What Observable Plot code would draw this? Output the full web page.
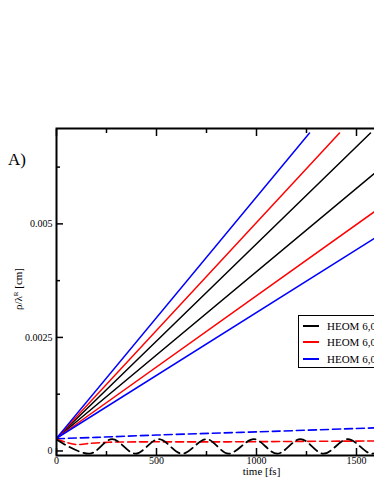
<!DOCTYPE html>
<html>
<head>
<meta charset="utf-8">
<script src="https://cdn.jsdelivr.net/npm/d3@7"></script>
<script src="https://cdn.jsdelivr.net/npm/@observablehq/plot@0.6"></script>
<style>
  html, body { margin: 0; padding: 0; background: #fff; overflow: hidden; }
  #wrap { position: relative; width: 374px; height: 484px; overflow: hidden; font-family: "Liberation Serif", "DejaVu Serif", serif; }
  #chart { position: absolute; left: 0; top: 0; width: 460px; }
  #chart svg { max-width: none !important; width: 460px; height: 484px; }
  #panel { position: absolute; left: 8px; top: 150px; font-size: 17px; }
  #ylab { position: absolute; left: 18px; top: 289px; transform: translate(-50%, -50%) rotate(-90deg); font-size: 11px; white-space: nowrap; }
  #ylab sup { font-size: 7px; }
  #legend { position: absolute; left: 298px; top: 315px; width: 120px; height: 51px; border: 1.5px solid #000; background: #fff; font-size: 11px; }
  .row { position: absolute; left: 4px; height: 14px; display: flex; align-items: center; white-space: nowrap; }
  .sw { display: inline-block; width: 16px; height: 2px; margin-right: 8px; }
</style>
</head>
<body>
<div id="wrap">
  <div id="chart"></div>
  <div id="panel">A)</div>
  <div id="ylab">ρ/λ<sup>R</sup> [cm]</div>
  <div id="legend"></div>
</div>
<script>
// ---- data ----
const black1T = [0, 1570];  const black1V = [0.00028, 0.0070];
const black2T = [0, 1600];  const black2V = [0.00028, 0.00615];
const red1T   = [0, 1415];  const red1V   = [0.00028, 0.0070];
const red2T   = [0, 1600];  const red2V   = [0.00028, 0.00530];
const blue1T  = [0, 1265];  const blue1V  = [0.00028, 0.0070];
const blue2T  = [0, 1600];  const blue2V  = [0.00028, 0.00471];

const blackDashT = [0, 165, 278, 395, 511, 628, 750, 860, 987, 1103, 1220, 1335, 1457, 1578, 1695];
const blackDashV = [0.00025, -0.00006, 0.00026, -0.00006, 0.00026, -0.00006, 0.00026, -0.00006, 0.00026, -0.00006, 0.00026, -0.00006, 0.00026, -0.00006, 0.00026];
const redDashT = [0, 50, 100, 150, 250, 400, 800, 1200, 1600];
const redDashV = [0.00026, 0.00019, 0.00014, 0.00016, 0.00019, 0.00020, 0.00020, 0.00021, 0.00022];
const blueDashT = [0, 200, 500, 1000, 1600];
const blueDashV = [0.00027, 0.00030, 0.00035, 0.00042, 0.00051];

const legendLabels = ["HEOM 6,000", "HEOM 6,000", "HEOM 6,000"];
const legendColors = ["#000000", "#ff0000", "#0000ff"];

const xMajor = [0, 500, 1000, 1500, 2000];
const xMinor = [250, 750, 1250, 1750];
const yMajor = [0, 0.0025, 0.005];
const yMinor = [0.00125, 0.00375, 0.00625];
const yLabels = {0: "0", 0.0025: "0.0025", 0.005: "0.005"};

const pts = (T, V) => T.map((t, i) => ({t, v: V[i]}));

const solid = [
  [black1T, black1V, "#000"], [black2T, black2V, "#000"],
  [red1T, red1V, "#f00"], [red2T, red2V, "#f00"],
  [blue1T, blue1V, "#00f"], [blue2T, blue2V, "#00f"]
];

const marks = [];
for (const [T, V, c] of solid) {
  marks.push(Plot.line(pts(T, V), {x: "t", y: "v", stroke: c, strokeWidth: 1.5, clip: true}));
}
marks.push(Plot.line(pts(blueDashT, blueDashV), {x: "t", y: "v", stroke: "#00f", strokeWidth: 1.6, strokeDasharray: "8,4", curve: "catmull-rom", clip: true}));
marks.push(Plot.line(pts(redDashT, redDashV), {x: "t", y: "v", stroke: "#f00", strokeWidth: 1.6, strokeDasharray: "8,4", curve: "catmull-rom", clip: true}));
marks.push(Plot.line(pts(blackDashT, blackDashV), {x: "t", y: "v", stroke: "#000", strokeWidth: 1.8, strokeDasharray: "10,5", curve: "catmull-rom", clip: true}));

const tickStyle = {stroke: "#000", strokeWidth: 1.5, strokeOpacity: 1};
marks.push(
  Plot.axisX({ticks: xMajor, tickSize: 0, tickPadding: 1, fontSize: 10, label: null, fill: "#000", tickFormat: d => String(d)}),
  Plot.axisX({anchor: "bottom", ticks: xMajor, tickSize: -7, text: null, label: null, ...tickStyle}),
  Plot.axisX({anchor: "bottom", ticks: xMinor, tickSize: -4, text: null, label: null, ...tickStyle}),
  Plot.axisX({anchor: "top", ticks: xMajor, tickSize: -7, text: null, label: null, ...tickStyle}),
  Plot.axisX({anchor: "top", ticks: xMinor, tickSize: -4, text: null, label: null, ...tickStyle}),
  Plot.axisY({ticks: yMajor, tickSize: 0, tickPadding: 4, fontSize: 10, label: null, fill: "#000", tickFormat: d => yLabels[d]}),
  Plot.axisY({anchor: "left", ticks: yMajor, tickSize: -7, text: null, label: null, ...tickStyle}),
  Plot.axisY({anchor: "left", ticks: yMinor, tickSize: -4, text: null, label: null, ...tickStyle}),
  Plot.text(["time [fs]"], {x: [1025], frameAnchor: "bottom", dy: 19, fontSize: 11, fill: "#000"}),
  Plot.frame({stroke: "#000", strokeWidth: 2})
);

const chart = Plot.plot({
  width: 460,
  height: 484,
  marginLeft: 56,
  marginRight: 4,
  marginTop: 128,
  marginBottom: 29,
  style: {fontFamily: "Liberation Serif, serif", fontSize: "10px", color: "#000", background: "#fff", maxWidth: "none"},
  x: {domain: [0, 2000]},
  y: {domain: [-0.0001, 0.0071]},
  marks
});
document.getElementById("chart").appendChild(chart);

const leg = document.getElementById("legend");
const rowTops = [3, 19, 36];
legendLabels.forEach((lab, i) => {
  const r = document.createElement("div");
  r.className = "row";
  r.style.top = rowTops[i] + "px";
  const sw = document.createElement("span");
  sw.className = "sw";
  sw.style.background = legendColors[i];
  r.appendChild(sw);
  r.appendChild(document.createTextNode(lab));
  leg.appendChild(r);
});
</script>
</body>
</html>
